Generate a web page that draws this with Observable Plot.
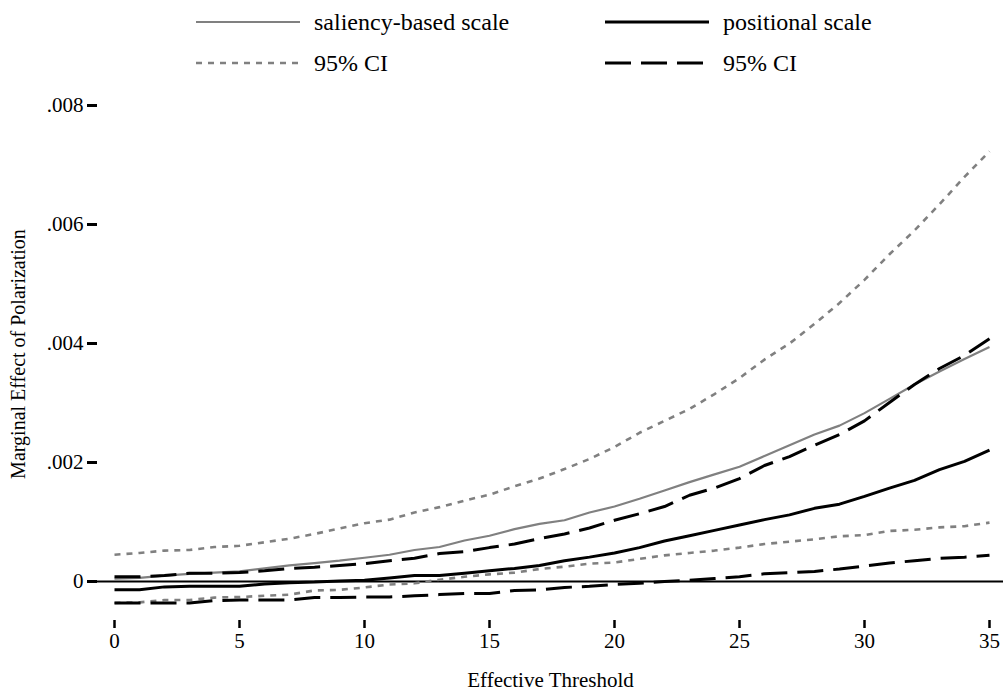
<!DOCTYPE html>
<html>
<head>
<meta charset="utf-8">
<script src="https://cdn.jsdelivr.net/npm/d3@7"></script>
<script src="https://cdn.jsdelivr.net/npm/@observablehq/plot@0.6"></script>
<style>
  body { margin: 0; background: #fff; font-family: "Liberation Serif", "Times New Roman", serif; }
  #legend { position: relative; width: 1006px; height: 85px; }
  .item { position: absolute; display: flex; align-items: center; height: 24px; font-size: 24px; color: #000; }
  .item svg { margin-right: 14px; }
</style>
</head>
<body>
<div id="legend"></div>
<div id="chart"></div>
<script>
// Effective threshold (x) and marginal effect of polarization for each scale
const threshold = [0,1,2,3,4,5,6,7,8,9,10,11,12,13,14,15,16,17,18,19,20,21,22,23,24,25,26,27,28,29,30,31,32,33,34,35];

const salience = [0.00005,0.00006,0.0001,0.00013,0.00015,0.00017,0.00022,0.00027,0.00031,0.00035,0.0004,0.00045,0.00053,0.00058,0.00069,0.00077,0.00088,0.00097,0.00103,0.00116,0.00126,0.00139,0.00153,0.00167,0.0018,0.00193,0.00211,0.00229,0.00247,0.00262,0.00283,0.00307,0.00331,0.00353,0.00374,0.00394];
const salienceHi = [0.00045,0.00048,0.00052,0.00053,0.00058,0.0006,0.00066,0.00072,0.0008,0.00089,0.00098,0.00104,0.00116,0.00125,0.00136,0.00146,0.0016,0.00173,0.00189,0.00206,0.00226,0.0025,0.0027,0.0029,0.00315,0.00342,0.00373,0.004,0.00433,0.00468,0.00507,0.0055,0.0059,0.00634,0.0068,0.00723];
const salienceLo = [-0.00036,-0.00035,-0.00031,-0.00031,-0.00027,-0.00026,-0.00024,-0.00022,-0.00015,-0.00014,-0.0001,-0.00005,-0.00003,0.00003,0.00008,0.00012,0.00015,0.00021,0.00025,0.0003,0.00032,0.00038,0.00044,0.00048,0.00052,0.00057,0.00063,0.00067,0.00071,0.00076,0.00078,0.00085,0.00087,0.00091,0.00093,0.00099];

const positional = [-0.00014,-0.00014,-0.00009,-0.00008,-0.00008,-0.00008,-0.00004,-0.00002,-0.00001,0.00001,0.00002,0.00006,0.0001,0.0001,0.00014,0.00018,0.00022,0.00027,0.00035,0.00041,0.00048,0.00057,0.00068,0.00077,0.00086,0.00095,0.00104,0.00112,0.00123,0.0013,0.00143,0.00157,0.0017,0.00188,0.00202,0.00221];
const positionalHi = [0.00008,0.00008,0.0001,0.00014,0.00014,0.00015,0.00018,0.00022,0.00024,0.00027,0.0003,0.00035,0.00039,0.00047,0.0005,0.00057,0.00063,0.00072,0.0008,0.0009,0.00103,0.00114,0.00126,0.00145,0.00157,0.00173,0.00195,0.0021,0.00229,0.00247,0.0027,0.00301,0.00331,0.00358,0.0038,0.00408];
const positionalLo = [-0.00036,-0.00036,-0.00036,-0.00036,-0.00032,-0.00031,-0.00031,-0.00031,-0.00027,-0.00027,-0.00026,-0.00026,-0.00024,-0.00022,-0.0002,-0.0002,-0.00015,-0.00014,-0.0001,-0.00008,-0.00005,-0.00003,0,0.00002,0.00005,0.00008,0.00013,0.00015,0.00017,0.00021,0.00026,0.00031,0.00035,0.00039,0.00041,0.00044];

const xTicks = [0,5,10,15,20,25,30,35];
const yTicks = [0,0.002,0.004,0.006,0.008];

const GRAY = "#808080";
const styles = {
  salience:     {stroke: GRAY,   strokeWidth: 2.2, strokeDasharray: null},
  salienceCI:   {stroke: GRAY,   strokeWidth: 2.6, strokeDasharray: "6,6"},
  positional:   {stroke: "#000", strokeWidth: 3,   strokeDasharray: null},
  positionalCI: {stroke: "#000", strokeWidth: 3,   strokeDasharray: "26,10"}
};

// legend entries
const legendItems = [
  {label: "saliency-based scale", style: styles.salience,     left: 196, top: 10},
  {label: "positional scale",     style: styles.positional,   left: 605, top: 10},
  {label: "95% CI",               style: styles.salienceCI,   left: 196, top: 51},
  {label: "95% CI",               style: styles.positionalCI, left: 605, top: 51}
];
const legend = document.getElementById("legend");
for (const it of legendItems) {
  const div = document.createElement("div");
  div.className = "item";
  div.style.left = it.left + "px";
  div.style.top = it.top + "px";
  const dash = it.style.strokeDasharray ? `stroke-dasharray="${it.style.strokeDasharray}"` : "";
  div.innerHTML = `<svg width="104" height="24"><line x1="0" x2="104" y1="12" y2="12" stroke="${it.style.stroke}" stroke-width="${it.style.strokeWidth}" ${dash}/></svg><span>${it.label}</span>`;
  legend.appendChild(div);
}

const rows = (ys) => threshold.map((t, i) => ({t, v: ys[i]}));
const lineOf = (ys, st) => Plot.line(rows(ys), {
  x: "t", y: "v", stroke: st.stroke, strokeWidth: st.strokeWidth,
  strokeDasharray: st.strokeDasharray, strokeLinecap: "butt", strokeLinejoin: "miter"
});

const fmtY = d => d === 0 ? "0" : d3.format(".3f")(d).replace(/^0/, "");

const chart = Plot.plot({
  width: 1006,
  height: 610,
  marginLeft: 97,
  marginRight: 3,
  marginTop: 20,
  marginBottom: 75,
  style: {fontFamily: "'Liberation Serif', 'Times New Roman', serif", background: "#fff", color: "#000"},
  x: {domain: [0, 35], insetLeft: 17, insetRight: 14},
  y: {domain: [-0.000655, 0.008]},
  marks: [
    Plot.axisX({ticks: xTicks, tickSize: 8, tickPadding: 5, strokeWidth: 2.5, fontSize: 21,
      label: "Effective Threshold", labelAnchor: "center", labelOffset: 66, labelArrow: "none"}),
    Plot.axisY({ticks: yTicks, tickFormat: fmtY, tickSize: 10, tickPadding: 4, strokeWidth: 3, fontSize: 21, label: null}),
    // y-axis title, rotated along the left edge
    Plot.text(["Marginal Effect of Polarization"], {
      frameAnchor: "left", textAnchor: "middle", rotate: -90, dx: -79, dy: -9, fontSize: 20
    }),
    Plot.ruleY([0], {stroke: "#000", strokeWidth: 2}),
    lineOf(salienceHi, styles.salienceCI),
    lineOf(salienceLo, styles.salienceCI),
    lineOf(salience, styles.salience),
    lineOf(positionalHi, styles.positionalCI),
    lineOf(positionalLo, styles.positionalCI),
    lineOf(positional, styles.positional)
  ]
});
document.getElementById("chart").appendChild(chart);
</script>
</body>
</html>
